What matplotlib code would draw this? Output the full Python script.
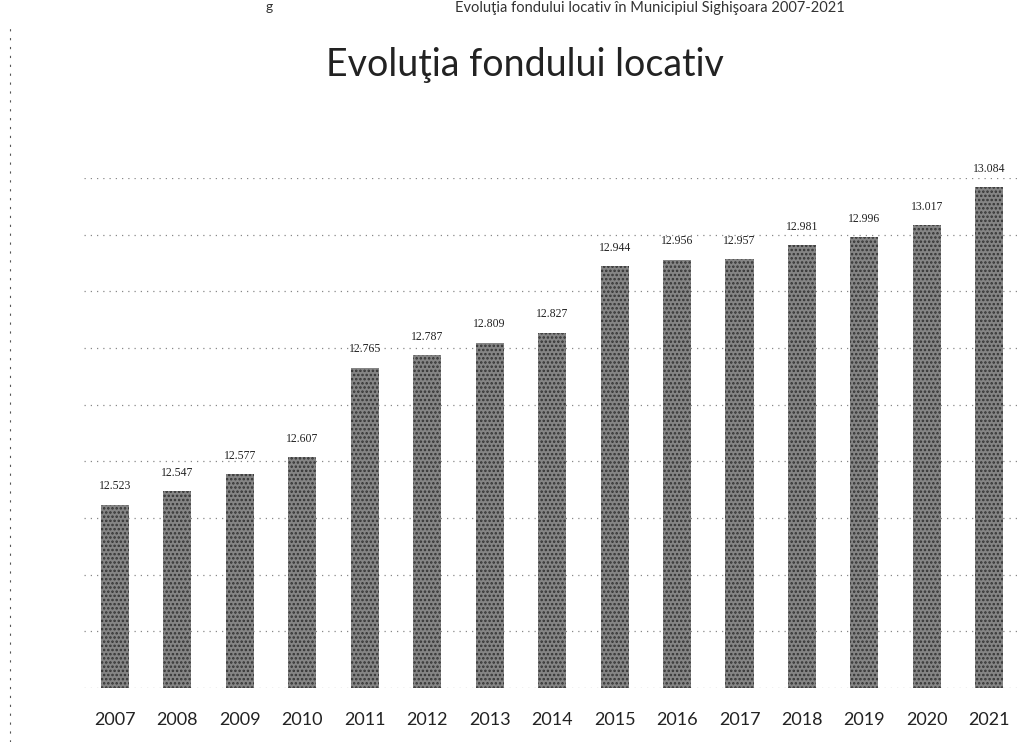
import matplotlib.pyplot as plt
from matplotlib.lines import Line2D

years = ['2007', '2008', '2009', '2010', '2011', '2012', '2013', '2014',
         '2015', '2016', '2017', '2018', '2019', '2020', '2021']
fond = [12523, 12547, 12577, 12607, 12765, 12787, 12809, 12827,
        12944, 12956, 12957, 12981, 12996, 13017, 13084]
labels = ['12.523', '12.547', '12.577', '12.607', '12.765', '12.787', '12.809', '12.827',
          '12.944', '12.956', '12.957', '12.981', '12.996', '13.017', '13.084']

plt.rcParams['font.family'] = ['Lato', 'DejaVu Sans']
plt.rcParams['hatch.linewidth'] = 1.2

fig = plt.figure(figsize=(10.34, 7.42), dpi=100)
ax = fig.add_axes([0.081, 0.073, 0.906, 0.687])

x = range(len(years))
ax.bar(x, fond, width=0.45, color='#858585', edgecolor='#333333',
       hatch='....', linewidth=0, zorder=3)

for i, v in enumerate(fond):
    ax.text(i, v + 22, labels[i], ha='center', va='bottom', fontsize=8.5,
            family='Liberation Serif', color='#222222')

ax.set_ylim(12200, 13100)
ax.set_xlim(-0.5, len(years) - 0.5)
ax.set_yticks(range(12200, 13101, 100))
ax.yaxis.grid(True, linestyle=(0, (1, 4)), color='#888888', linewidth=0.9)
ax.set_axisbelow(True)
ax.tick_params(axis='y', left=False, labelleft=False)
ax.tick_params(axis='x', bottom=False, pad=14)
ax.set_xticks(list(x))
ax.set_xticklabels(years, fontsize=13, color='#222222')
for s in ax.spines.values():
    s.set_visible(False)

fig.text(0.508, 0.912, 'Evoluţia fondului locativ', ha='center', va='center',
         fontsize=27, color='#222222')

# header line of the scanned page, at the top edge
fig.text(0.257, 0.998, 'g', ha='left', va='top', fontsize=10, color='#333333')
fig.text(0.44, 0.998, 'Evoluţia fondului locativ în Municipiul Sighişoara 2007-2021',
         ha='left', va='top', fontsize=10.5, color='#333333')

# dashed margin line of the scan
fig.add_artist(Line2D([0.01, 0.01], [0.0, 0.97], transform=fig.transFigure,
                      linestyle=(0, (2, 6)), color='#555555', linewidth=0.8))

fig.savefig('out.png', dpi=100)
